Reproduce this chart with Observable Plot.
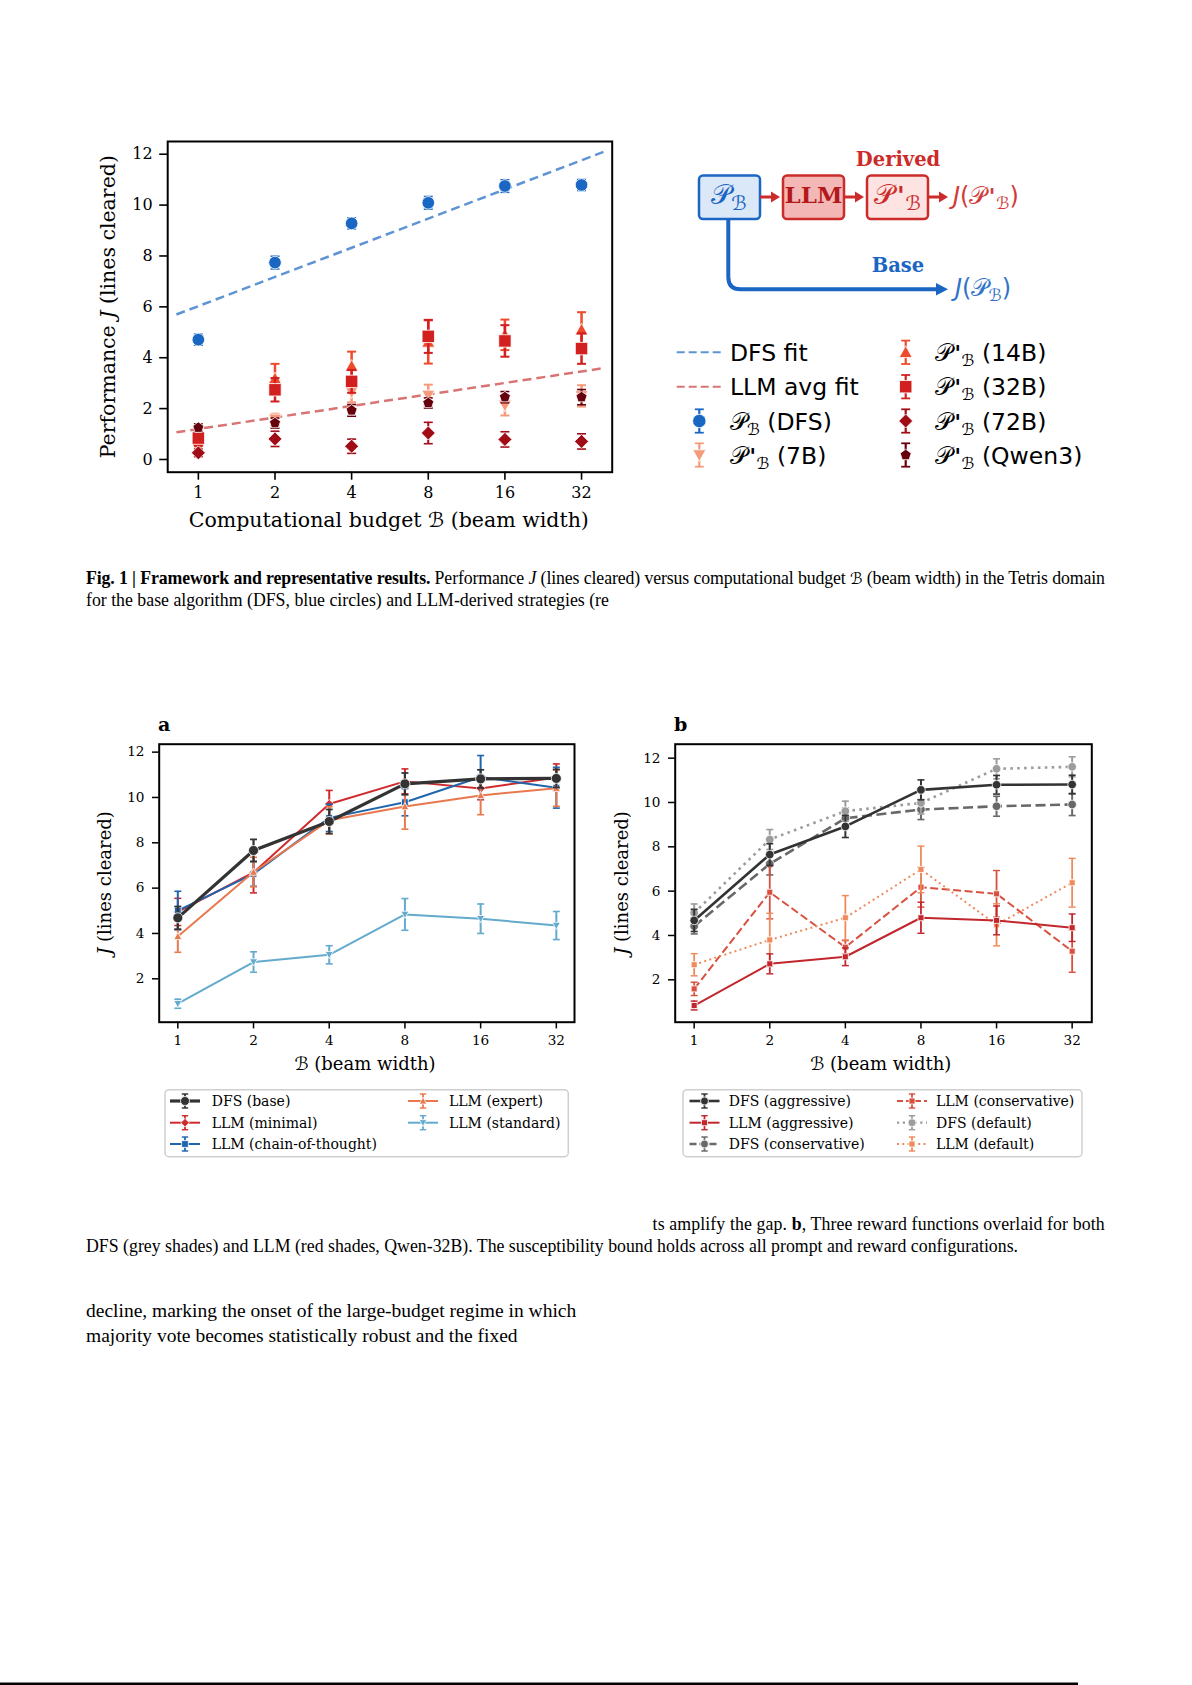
<!DOCTYPE html>
<html><head><meta charset="utf-8">
<script src="https://cdn.jsdelivr.net/npm/d3@7"></script>
<script src="https://cdn.jsdelivr.net/npm/@observablehq/plot@0.6"></script>
<style>
html,body{margin:0;padding:0;background:#fff;}
#page{position:relative;width:1192px;height:1685px;overflow:hidden;background:#fff;}
#page > svg{position:absolute;}
</style></head><body><div id="page"></div>
<script>
// ---------------- DATA ----------------
const budgets = [1, 2, 4, 8, 16, 32];
const yTicksTop = [0, 2, 4, 6, 8, 10, 12];
const yTicksPanel = [2, 4, 6, 8, 10, 12];

// Fig. 1 top: mean J and error half-width per budget
const topDfs = [4.71, 7.74, 9.28, 10.09, 10.75, 10.79];
const topDfsErr = [0.22, 0.25, 0.22, 0.25, 0.25, 0.22];
const top7b = [0.42, 1.58, 2.65, 2.52, 2.13, 2.5];
const top7bErr = [0.2, 0.22, 0.4, 0.42, 0.4, 0.42];
const top14b = [0.88, 3.18, 3.67, 4.62, 4.9, 5.1];
const top14bErr = [0.3, 0.58, 0.57, 0.85, 0.6, 0.69];
const top32b = [0.84, 2.74, 3.07, 4.84, 4.66, 4.36];
const top32bErr = [0.3, 0.46, 0.45, 0.65, 0.62, 0.6];
const top72b = [0.26, 0.81, 0.52, 1.04, 0.79, 0.71];
const top72bErr = [0.15, 0.3, 0.28, 0.42, 0.3, 0.3];
const topQwen3 = [1.25, 1.43, 1.93, 2.22, 2.45, 2.45];
const topQwen3Err = [0.15, 0.2, 0.23, 0.2, 0.22, 0.3];
// fit lines: end points (budget, J)
const fitB = [0.82, 39];
const dfsFitJ = [5.70, 12.09];
const llmFitJ = [1.07, 3.59];

// Panel a
const aDfsBase = [4.69, 7.66, 8.94, 10.60, 10.82, 10.84];
const aDfsBaseErr = [0.5, 0.49, 0.53, 0.48, 0.4, 0.4];
const aMinimal = [4.95, 6.69, 9.71, 10.71, 10.40, 10.88];
const aMinimalErr = [0.6, 0.9, 0.6, 0.55, 0.5, 0.6];
const aCot = [5.01, 6.63, 9.10, 9.79, 10.90, 10.43];
const aCotErr = [0.85, 0.55, 0.6, 0.6, 0.95, 0.9];
const aExpert = [3.87, 6.71, 8.99, 9.60, 10.09, 10.41];
const aExpertErr = [0.7, 0.65, 0.6, 1.0, 0.85, 0.8];
const aStandard = [0.90, 2.74, 3.06, 4.84, 4.65, 4.35];
const aStandardErr = [0.2, 0.45, 0.4, 0.7, 0.65, 0.62];

// Panel b
const bDfsAggr = [4.68, 7.65, 8.92, 10.57, 10.80, 10.81];
const bDfsAggrErr = [0.5, 0.49, 0.5, 0.45, 0.42, 0.42];
const bDfsCons = [4.42, 7.23, 9.29, 9.68, 9.83, 9.91];
const bDfsConsErr = [0.35, 0.5, 0.45, 0.45, 0.45, 0.5];
const bDfsDef = [5.02, 8.33, 9.61, 9.98, 11.52, 11.61];
const bDfsDefErr = [0.4, 0.45, 0.45, 0.5, 0.45, 0.45];
const bLlmAggr = [0.84, 2.72, 3.04, 4.80, 4.68, 4.35];
const bLlmAggrErr = [0.2, 0.45, 0.4, 0.7, 0.65, 0.62];
const bLlmCons = [1.59, 5.95, 3.47, 6.18, 5.88, 3.29];
const bLlmConsErr = [0.3, 1.2, 0.3, 0.9, 1.05, 0.95];
const bLlmDef = [2.68, 3.80, 4.80, 6.98, 4.48, 6.38];
const bLlmDefErr = [0.5, 1.2, 1.0, 1.05, 0.95, 1.1];

// ---------------- SYMBOLS ----------------
function sym(fn) { return {draw(ctx, size) { fn(ctx, Math.sqrt(size / Math.PI)); }}; }
const SYM = {
  circle: sym((c, s) => { c.moveTo(s, 0); c.arc(0, 0, s, 0, 2 * Math.PI); }),
  square: sym((c, s) => { c.rect(-s, -s, 2 * s, 2 * s); }),
  diamond: sym((c, s) => { c.moveTo(0, -s); c.lineTo(s, 0); c.lineTo(0, s); c.lineTo(-s, 0); c.closePath(); }),
  triUp: sym((c, s) => { c.moveTo(0, -s); c.lineTo(s, s * 0.8); c.lineTo(-s, s * 0.8); c.closePath(); }),
  triDown: sym((c, s) => { c.moveTo(0, s); c.lineTo(s, -s * 0.8); c.lineTo(-s, -s * 0.8); c.closePath(); }),
  pentagon: sym((c, s) => { for (let i = 0; i < 5; i++) { const a = -Math.PI / 2 + i * 2 * Math.PI / 5; const x = s * Math.cos(a), y = s * Math.sin(a); i ? c.lineTo(x, y) : c.moveTo(x, y); } c.closePath(); }),
  cap: sym((c, s) => { c.moveTo(-s, 0); c.lineTo(s, 0); })
};
function symPath(name, s) { const p = d3.path(); SYM[name].draw(p, s * s * Math.PI); return p.toString(); }

const SERIF = "'DejaVu Serif', serif";
const SANS = "'DejaVu Sans', sans-serif";
const TIMES = "'Liberation Serif', 'Times New Roman', serif";

function errMarks(ys, es, o) {
  const data = budgets.map((x, i) => ({x, y: ys[i], lo: ys[i] - es[i], hi: ys[i] + es[i]}));
  const ec = o.ecolor || o.color;
  const out = [];
  if (o.line) out.push(Plot.line(data, {x: "x", y: "y", stroke: o.lcolor || o.color, strokeWidth: o.lw, strokeDasharray: o.dash, strokeLinecap: o.dash ? "butt" : "round", strokeLinejoin: "round"}));
  out.push(Plot.ruleX(data, {x: "x", y1: "lo", y2: "hi", stroke: ec, strokeWidth: o.elw}));
  out.push(Plot.dot(data, {x: "x", y: "lo", symbol: SYM.cap, r: o.cap, stroke: ec, strokeWidth: o.elw * 0.8, fill: "none"}));
  out.push(Plot.dot(data, {x: "x", y: "hi", symbol: SYM.cap, r: o.cap, stroke: ec, strokeWidth: o.elw * 0.8, fill: "none"}));
  out.push(Plot.dot(data, {x: "x", y: "y", symbol: SYM[o.sym], r: o.r, fill: o.color, stroke: "white", strokeWidth: o.mew ?? 0.8}));
  return out;
}

const page = document.getElementById("page");
function place(svg, left, topPx) { svg.style.left = left + "px"; svg.style.top = topPx + "px"; page.appendChild(svg); }

// ---------------- TOP PLOT ----------------
const C = {dfs: "#1967c2", dfsFit: "#5f94d4", llmFit: "#d97474", b7: "#f59b7c", b14: "#ee4a2c", b32: "#d21f1f", b72: "#a10d16", qwen3: "#67000d"};
const fitData = fitB.map((b, i) => ({b, dfs: dfsFitJ[i], llm: llmFitJ[i]}));
const topPlot = Plot.plot({
  width: 545, height: 420,
  marginLeft: 87.2, marginRight: 13.3, marginTop: 21, marginBottom: 68.3,
  x: {type: "log", base: 2, domain: [2 ** -0.4, 2 ** 5.4]},
  y: {domain: [-0.5, 12.5]},
  style: {fontFamily: SERIF, fontSize: "16px", color: "#000", background: "transparent", overflow: "visible"},
  marks: [
    Plot.line(fitData, {x: "b", y: "dfs", stroke: C.dfsFit, strokeWidth: 2.5, strokeDasharray: "9,5", strokeLinecap: "butt"}),
    Plot.line(fitData, {x: "b", y: "llm", stroke: C.llmFit, strokeWidth: 2.5, strokeDasharray: "9,5", strokeLinecap: "butt"}),
    ...errMarks(topDfs, topDfsErr, {color: C.dfs, sym: "circle", r: 6.3, elw: 1.8, cap: 4.5}),
    ...errMarks(top7b, top7bErr, {color: C.b7, sym: "triDown", r: 6.5, elw: 2.5, cap: 4.5}),
    ...errMarks(top14b, top14bErr, {color: C.b14, sym: "triUp", r: 6.5, elw: 2.5, cap: 4.5}),
    ...errMarks(top32b, top32bErr, {color: C.b32, sym: "square", r: 6.2, elw: 2.5, cap: 4.5}),
    ...errMarks(top72b, top72bErr, {color: C.b72, sym: "diamond", r: 7, elw: 2, cap: 4.5}),
    ...errMarks(topQwen3, topQwen3Err, {color: C.qwen3, sym: "pentagon", r: 5.8, elw: 2, cap: 4.5}),
    Plot.frame({stroke: "#000", strokeWidth: 2}),
    Plot.axisX(budgets, {tickSize: 8, tickPadding: 6, strokeWidth: 1.6, tickFormat: d => String(d), label: null}),
    Plot.axisY(yTicksTop, {tickSize: 8, tickPadding: 7, strokeWidth: 1.6, label: null})
  ]
});
place(topPlot, 80, 120);

// ---------------- PANEL a ----------------
const A = {dfs: "#333333", minimal: "#cf2b2e", cot: "#2166ac", expert: "#e9784f", standard: "#63aacd"};
const pa = Plot.plot({
  width: 500, height: 380,
  marginLeft: 68.7, marginRight: 16, marginTop: 33.7, marginBottom: 68.3,
  x: {type: "log", base: 2, domain: [2 ** -0.246, 2 ** 5.24]},
  y: {domain: [0.085, 12.35]},
  style: {fontFamily: SERIF, fontSize: "13.6px", color: "#000", background: "transparent", overflow: "visible"},
  marks: [
    ...errMarks(aMinimal, aMinimalErr, {color: A.minimal, sym: "diamond", r: 4.6, line: true, lw: 2, elw: 2, cap: 3.5}),
    ...errMarks(aCot, aCotErr, {color: A.cot, sym: "square", r: 3.4, line: true, lw: 2, elw: 2, cap: 3.5}),
    ...errMarks(aExpert, aExpertErr, {color: A.expert, sym: "triUp", r: 4, line: true, lw: 2, elw: 2, cap: 3.5}),
    ...errMarks(aStandard, aStandardErr, {color: A.standard, sym: "triDown", r: 4, line: true, lw: 2, elw: 2, cap: 3.5}),
    ...errMarks(aDfsBase, aDfsBaseErr, {color: A.dfs, sym: "circle", r: 5, line: true, lw: 3.2, elw: 2.2, cap: 3.5}),
    Plot.frame({stroke: "#000", strokeWidth: 2}),
    Plot.axisX(budgets, {tickSize: 6.7, tickPadding: 6.5, strokeWidth: 1.5, tickFormat: d => String(d), label: null}),
    Plot.axisY(yTicksPanel, {tickSize: 6.7, tickPadding: 8, strokeWidth: 1.5, label: null})
  ]
});
place(pa, 90, 710);

// ---------------- PANEL b ----------------
const B = {dfsAggr: "#333333", dfsCons: "#686868", dfsDef: "#9c9c9c", llmAggr: "#c1272d", llmCons: "#d8503f", llmDef: "#ee8a5c"};
const pb = Plot.plot({
  width: 500, height: 380,
  marginLeft: 64.7, marginRight: 18.7, marginTop: 33.7, marginBottom: 68.3,
  x: {type: "log", base: 2, domain: [2 ** -0.251, 2 ** 5.26]},
  y: {domain: [0.087, 12.63]},
  style: {fontFamily: SERIF, fontSize: "13.6px", color: "#000", background: "transparent", overflow: "visible"},
  marks: [
    ...errMarks(bDfsCons, bDfsConsErr, {color: B.dfsCons, sym: "circle", r: 4.3, line: true, lw: 2.6, dash: "10,4.5", elw: 2, cap: 3.5}),
    ...errMarks(bDfsDef, bDfsDefErr, {color: B.dfsDef, sym: "circle", r: 4.3, line: true, lw: 2.6, dash: "2.6,4.3", elw: 2, cap: 3.5}),
    ...errMarks(bLlmCons, bLlmConsErr, {color: B.llmCons, sym: "square", r: 3, line: true, lw: 2, dash: "8,3.5", elw: 1.8, cap: 3.5}),
    ...errMarks(bLlmDef, bLlmDefErr, {color: B.llmDef, sym: "square", r: 3, line: true, lw: 2, dash: "2,3.3", elw: 1.8, cap: 3.5}),
    ...errMarks(bLlmAggr, bLlmAggrErr, {color: B.llmAggr, sym: "square", r: 3, line: true, lw: 2, elw: 1.8, cap: 3.5}),
    ...errMarks(bDfsAggr, bDfsAggrErr, {color: B.dfsAggr, sym: "circle", r: 4.3, line: true, lw: 2.6, elw: 2, cap: 3.5}),
    Plot.frame({stroke: "#000", strokeWidth: 2}),
    Plot.axisX(budgets, {tickSize: 6.7, tickPadding: 6.5, strokeWidth: 1.5, tickFormat: d => String(d), label: null}),
    Plot.axisY(yTicksPanel, {tickSize: 6.7, tickPadding: 8, strokeWidth: 1.5, label: null})
  ]
});
place(pb, 610, 710);

// ---------------- OVERLAY (text, diagram, legends) ----------------
const CAL_P = "\u{1D4AB}", CAL_B = "\u212C";
const calFont = "'DejaVu Sans', 'DejaVu Serif', serif";
// calligraphic P (optionally primed) with subscript calligraphic B, then the rest of the text back on the baseline
function PB(fs, prime, after) {
  const sfs = (fs * 0.7).toFixed(1), dy = (fs * 0.22).toFixed(1);
  let s = `<tspan font-family="${calFont}">${CAL_P}</tspan>`;
  if (prime) s += `<tspan font-family="'DejaVu Sans'" font-style="italic" font-weight="bold" font-size="${(fs * 0.9).toFixed(1)}" dx="${(fs * 0.1).toFixed(1)}">'</tspan>`;
  s += `<tspan font-family="${calFont}" font-size="${sfs}" dy="${dy}" dx="${prime ? (fs * 0.03).toFixed(1) : 0}">${CAL_B}</tspan>`;
  if (after) s += `<tspan dy="-${dy}">${after}</tspan>`;
  return s;
}

function handle(cx, cy, o) {
  let s = "";
  if (o.len) s += `<line x1="${cx - o.len}" y1="${cy}" x2="${cx + o.len}" y2="${cy}" stroke="${o.color}" stroke-width="${o.lw}" ${o.dash ? `stroke-dasharray="${o.dash}"` : ""} stroke-linecap="butt"/>`;
  s += `<line x1="${cx}" y1="${cy - o.eh}" x2="${cx}" y2="${cy + o.eh}" stroke="${o.color}" stroke-width="${o.elw}"/>`;
  s += `<line x1="${cx - o.cap}" y1="${cy - o.eh}" x2="${cx + o.cap}" y2="${cy - o.eh}" stroke="${o.color}" stroke-width="${o.elw * 0.8}"/>`;
  s += `<line x1="${cx - o.cap}" y1="${cy + o.eh}" x2="${cx + o.cap}" y2="${cy + o.eh}" stroke="${o.color}" stroke-width="${o.elw * 0.8}"/>`;
  s += `<path transform="translate(${cx},${cy})" d="${symPath(o.sym, o.r)}" fill="${o.color}" stroke="white" stroke-width="0.8"/>`;
  return s;
}

const red = "#cc2b2b", blue = "#1a66c2";
let ov = `<svg xmlns="http://www.w3.org/2000/svg" width="1192" height="1685" style="left:0;top:0;pointer-events:none">`;

ov += `<text transform="translate(115,306.7) rotate(-90)" text-anchor="middle" font-family="${SERIF}" font-size="20.5">Performance <tspan font-style="italic">J</tspan> (lines cleared)</text>`;
ov += `<text x="388.8" y="527" text-anchor="middle" font-family="${SERIF}" font-size="20.5">Computational budget <tspan font-family="${calFont}">${CAL_B}</tspan> (beam width)</text>`;

// diagram
ov += `<text x="898" y="166" text-anchor="middle" font-family="${SERIF}" font-weight="bold" font-size="19.5" fill="${red}">Derived</text>`;
ov += `<rect x="699" y="175.5" width="61" height="43.5" rx="4" fill="#dbe8f7" stroke="${blue}" stroke-width="2.5"/>`;
ov += `<text x="729" y="204" text-anchor="middle" font-size="28" fill="${blue}" font-family="${calFont}">${PB(28, false)}</text>`;
function redArrow(x1, x2, y) {
  return `<line x1="${x1}" y1="${y}" x2="${x2 - 7}" y2="${y}" stroke="${red}" stroke-width="3"/><polygon points="${x2 - 9},${y - 5.5} ${x2},${y} ${x2 - 9},${y + 5.5}" fill="${red}"/>`;
}
ov += redArrow(760, 780, 197);
ov += `<rect x="783" y="175.5" width="61" height="43.5" rx="4" fill="#f3b8b5" stroke="${red}" stroke-width="2.5"/>`;
ov += `<text x="813.5" y="203" text-anchor="middle" font-family="${SERIF}" font-weight="bold" font-size="23" fill="#b3191c">LLM</text>`;
ov += redArrow(844, 864, 197);
ov += `<rect x="867" y="175.5" width="61" height="43.5" rx="4" fill="#fde3e1" stroke="${red}" stroke-width="2.5"/>`;
ov += `<text x="897.5" y="204" text-anchor="middle" font-size="28" fill="${red}" font-family="${calFont}">${PB(28, true)}</text>`;
ov += redArrow(928, 948, 197);
ov += `<text x="953" y="204" font-family="${SANS}" font-size="24" fill="#d23a3a"><tspan font-style="italic">J</tspan>(${PB(24, true, ")")}</text>`;
ov += `<path d="M728.3,219 V277 Q728.3,289.3 740.6,289.3 H938" fill="none" stroke="${blue}" stroke-width="4"/>`;
ov += `<polygon points="936,283 948,289.3 936,295.6" fill="${blue}"/>`;
ov += `<text x="898" y="271.7" text-anchor="middle" font-family="${SERIF}" font-weight="bold" font-size="19.5" fill="${blue}">Base</text>`;
ov += `<text x="955" y="296" font-family="${SANS}" font-size="24" fill="#2f74c8"><tspan font-style="italic">J</tspan>(${PB(24, false, ")")}</text>`;

// top-right legend
const lgRows = [352.3, 386.7, 421, 455];
ov += `<line x1="676.7" y1="${lgRows[0]}" x2="721.7" y2="${lgRows[0]}" stroke="${C.dfsFit}" stroke-width="2" stroke-dasharray="8,4"/>`;
ov += `<text x="730" y="${lgRows[0] + 8.5}" font-family="${SANS}" font-size="23.5">DFS fit</text>`;
ov += `<line x1="676.7" y1="${lgRows[1]}" x2="721.7" y2="${lgRows[1]}" stroke="${C.llmFit}" stroke-width="2" stroke-dasharray="8,4"/>`;
ov += `<text x="730" y="${lgRows[1] + 8.5}" font-family="${SANS}" font-size="23.5">LLM avg fit</text>`;
const topLegend = [
  {col: 0, row: 2, color: C.dfs, sym: "circle", r: 6.7, label: "(DFS)", prime: false},
  {col: 0, row: 3, color: C.b7, sym: "triDown", r: 6.5, label: "(7B)", prime: true},
  {col: 1, row: 0, color: C.b14, sym: "triUp", r: 6.5, label: "(14B)", prime: true},
  {col: 1, row: 1, color: C.b32, sym: "square", r: 6.2, label: "(32B)", prime: true},
  {col: 1, row: 2, color: C.b72, sym: "diamond", r: 7, label: "(72B)", prime: true},
  {col: 1, row: 3, color: C.qwen3, sym: "pentagon", r: 5.8, label: "(Qwen3)", prime: true}
];
for (const e of topLegend) {
  const mx = e.col ? 905.7 : 699.3, tx = e.col ? 935 : 730, cy = lgRows[e.row];
  ov += handle(mx, cy, {color: e.color, sym: e.sym, r: e.r, eh: 11.7, cap: 4.5, elw: 2.2});
  ov += `<text x="${tx}" y="${cy + 8.5}" font-family="${SANS}" font-size="23.5">${PB(23.5, e.prime, "\u00a0" + e.label)}</text>`;
}

// panel letters and axis titles
ov += `<text x="158" y="731" font-family="${SERIF}" font-weight="bold" font-size="19">a</text>`;
ov += `<text x="674" y="731" font-family="${SERIF}" font-weight="bold" font-size="19">b</text>`;
for (const [cx, lx] of [[365, 111], [880.8, 628]]) {
  ov += `<text x="${cx}" y="1070" text-anchor="middle" font-family="${SERIF}" font-size="18"><tspan font-family="${calFont}">${CAL_B}</tspan> (beam width)</text>`;
  ov += `<text transform="translate(${lx},883) rotate(-90)" text-anchor="middle" font-family="${SERIF}" font-size="18"><tspan font-style="italic">J</tspan> (lines cleared)</text>`;
}

// bottom legends
const lgY = [1101, 1122.7, 1144];
ov += `<rect x="165" y="1089.7" width="403.3" height="67" rx="4" fill="white" fill-opacity="0.8" stroke="#cfcfcf" stroke-width="1.5"/>`;
ov += `<rect x="683" y="1089.7" width="399" height="67" rx="4" fill="white" fill-opacity="0.8" stroke="#cfcfcf" stroke-width="1.5"/>`;
const legA = [
  {cx: 185, tx: 211.7, row: 0, color: A.dfs, sym: "circle", r: 4.5, lw: 3.2, label: "DFS (base)"},
  {cx: 185, tx: 211.7, row: 1, color: A.minimal, sym: "diamond", r: 4.3, lw: 2, label: "LLM (minimal)"},
  {cx: 185, tx: 211.7, row: 2, color: A.cot, sym: "square", r: 3.4, lw: 2, label: "LLM (chain-of-thought)"},
  {cx: 423, tx: 449, row: 0, color: A.expert, sym: "triUp", r: 3.8, lw: 2, label: "LLM (expert)"},
  {cx: 423, tx: 449, row: 1, color: A.standard, sym: "triDown", r: 3.8, lw: 2, label: "LLM (standard)"},
  {cx: 704.5, tx: 728.8, row: 0, color: B.dfsAggr, sym: "circle", r: 4, lw: 2.6, label: "DFS (aggressive)"},
  {cx: 704.5, tx: 728.8, row: 1, color: B.llmAggr, sym: "square", r: 3, lw: 2, label: "LLM (aggressive)"},
  {cx: 704.5, tx: 728.8, row: 2, color: B.dfsCons, sym: "circle", r: 4, lw: 2.6, dash: "7,3", label: "DFS (conservative)"},
  {cx: 912, tx: 936, row: 0, color: B.llmCons, sym: "square", r: 3, lw: 2, dash: "6,3", label: "LLM (conservative)"},
  {cx: 912, tx: 936, row: 1, color: B.dfsDef, sym: "circle", r: 4, lw: 2.2, dash: "2.2,3.6", label: "DFS (default)"},
  {cx: 912, tx: 936, row: 2, color: B.llmDef, sym: "square", r: 3, lw: 2, dash: "2,3.3", label: "LLM (default)"}
];
for (const e of legA) {
  const cy = lgY[e.row];
  ov += handle(e.cx, cy, {len: 15, color: e.color, lw: e.lw, dash: e.dash, sym: e.sym, r: e.r, eh: 7, cap: 3.2, elw: 1.8});
  ov += `<text x="${e.tx}" y="${cy + 5}" font-family="${SERIF}" font-size="14">${e.label}</text>`;
}

// captions and body text
ov += `<text x="86" y="584" font-family="${TIMES}" font-size="17.8" textLength="1019" lengthAdjust="spacing"><tspan font-weight="bold">Fig. 1 | Framework and representative results.</tspan> Performance <tspan font-style="italic">J</tspan> (lines cleared) versus computational budget <tspan font-family="${calFont}" font-size="16">${CAL_B}</tspan> (beam width) in the Tetris domain</text>`;
ov += `<text x="86" y="605.7" font-family="${TIMES}" font-size="17.8">for the base algorithm (DFS, blue circles) and LLM-derived strategies (re</text>`;
ov += `<text x="652.6" y="1230" font-family="${TIMES}" font-size="17.8" textLength="452" lengthAdjust="spacing">ts amplify the gap. <tspan font-weight="bold">b</tspan>, Three reward functions overlaid for both</text>`;
ov += `<text x="86" y="1251.7" font-family="${TIMES}" font-size="17.8">DFS (grey shades) and LLM (red shades, Qwen-32B). The susceptibility bound holds across all prompt and reward configurations.</text>`;
ov += `<text x="86" y="1317.3" font-family="${TIMES}" font-size="19.5">decline, marking the onset of the large-budget regime in which</text>`;
ov += `<text x="86" y="1341.7" font-family="${TIMES}" font-size="19.5">majority vote becomes statistically robust and the fixed</text>`;

ov += `<rect x="0" y="1682.5" width="1078" height="2.5" fill="#000"/>`;
ov += `</svg>`;
page.insertAdjacentHTML("beforeend", ov);
</script></body></html>
